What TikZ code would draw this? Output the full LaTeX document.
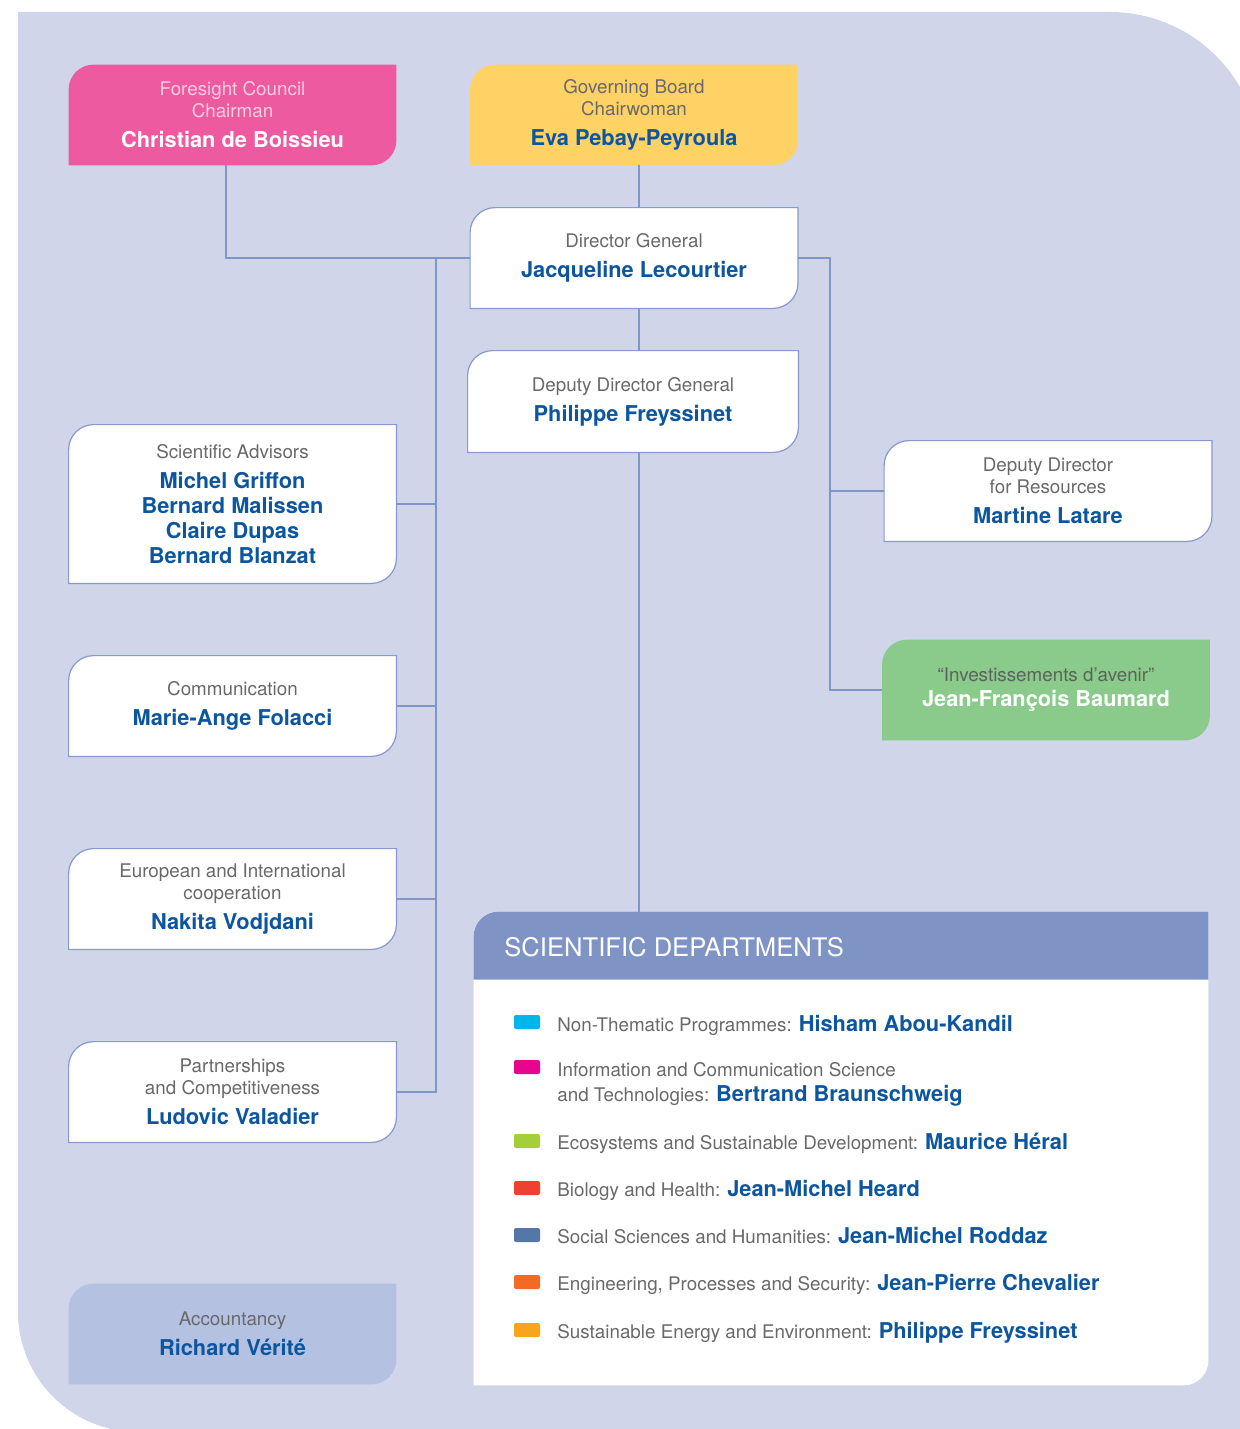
\documentclass[tikz,border=0pt]{standalone}
\usepackage{fontspec}
\setmainfont{TeX Gyre Heros}
\usetikzlibrary{calc}

\pgfdeclarelayer{bg}
\pgfdeclarelayer{shapes}
\pgfsetlayers{bg,shapes,main}

\definecolor{pagebg}{RGB}{208,213,233}
\definecolor{linec}{RGB}{128,149,202}
\definecolor{edgec}{RGB}{135,153,207}
\definecolor{txtgray}{RGB}{105,105,108}
\definecolor{nameblue}{RGB}{12,86,160}
\definecolor{pinkbox}{RGB}{238,90,160}
\definecolor{pinktxt}{RGB}{250,205,225}
\definecolor{yellowbox}{RGB}{254,210,100}
\definecolor{greenbox}{RGB}{138,202,138}
\definecolor{greentxt}{RGB}{90,100,92}
\definecolor{headc}{RGB}{127,147,197}
\definecolor{accbox}{RGB}{181,193,224}
\definecolor{dcyan}{RGB}{0,181,232}
\definecolor{dmagenta}{RGB}{232,4,140}
\definecolor{dgreen}{RGB}{166,206,57}
\definecolor{dred}{RGB}{238,65,48}
\definecolor{dslate}{RGB}{84,119,168}
\definecolor{dorange}{RGB}{242,106,35}
\definecolor{damber}{RGB}{249,165,27}

\newcommand{\light}{\fontsize{9.4}{11}\selectfont\color{txtgray}}
\newcommand{\name}{\fontsize{10.9}{12.5}\selectfont\bfseries\color{nameblue}}
% box outline: rounded top left and bottom right only
\newcommand{\orgshape}[2]{%
  \path[#2] (#1.south west) -- ([yshift=-12.5pt]#1.north west)
    arc[start angle=180,end angle=90,radius=12.5pt] -- (#1.north east)
    -- ([yshift=12.5pt]#1.south east)
    arc[start angle=0,end angle=-90,radius=12.5pt] -- cycle;}

\tikzset{
  orgbox/.style={minimum width=163.5pt, minimum height=50pt, inner sep=0pt, align=center, font=\light,
    execute at begin node={\rule{0pt}{10.5pt}}},
  whitebox/.style={fill=white, draw=edgec, line width=0.6pt},
  link/.style={draw=linec, line width=1pt},
  dsq/.style={minimum width=13pt, minimum height=7pt, inner sep=0pt, rounded corners=1pt},
  dtext/.style={anchor=base west, inner sep=0pt, font=\light}
}

\begin{document}
\begin{tikzpicture}[x=0.5pt, y=-0.5pt]
    \useasboundingbox (0,0) rectangle (1239,1429);

    % Nen
    \begin{pgfonlayer}{bg}
    \fill[pagebg] (18,12) -- (1110,12) arc[start angle=90,end angle=0,radius=75pt]
        -- (1260,1432) -- (138,1432) arc[start angle=270,end angle=180,radius=60pt] -- cycle;
    \end{pgfonlayer}

    % Hang tren
    \node[orgbox, font=\light\color{pinktxt}] (fc) at (232.5,115) {Foresight Council\\ Chairman\\[4pt]
        \name\color{white} Christian de Boissieu};
    \node[orgbox] (gb) at (634,115) {Governing Board\\ Chairwoman\\[4pt]
        \name Eva Pebay-Peyroula};
    \node[orgbox] (dg) at (634,258) {Director General\\[4pt] \name Jacqueline Lecourtier};
    \node[orgbox, minimum width=165pt, minimum height=50.5pt] (ddg) at (633,401.5)
        {Deputy Director General\\[4pt] \name Philippe Freyssinet};

    % Cot trai
    \node[orgbox, minimum height=79pt] (sa) at (232.5,504) {Scientific Advisors\\[4pt]
        \name Michel Griffon\\[1.5pt] \name Bernard Malissen\\[1.5pt] \name Claire Dupas\\[1.5pt]
        \name Bernard Blanzat};
    \node[orgbox] (cm) at (232.5,706) {Communication\\[4pt] \name Marie-Ange Folacci};
    \node[orgbox] (eu) at (232.5,899) {European and International\\ cooperation\\[4pt]
        \name Nakita Vodjdani};
    \node[orgbox] (pc) at (232.5,1092) {Partnerships\\ and Competitiveness\\[4pt]
        \name Ludovic Valadier};
    \node[orgbox] (ac) at (232.5,1334) {Accountancy\\[4pt] \name Richard Vérité};

    % Cot phai
    \node[orgbox] (dr) at (1048,491) {Deputy Director\\ for Resources\\[4pt]
        \name Martine Latare};
    \node[orgbox, font=\light\color{greentxt}] (iv) at (1046,690) {“Investissements d’avenir”\\[1.5pt]
        \name\color{white} Jean-François Baumard};

    % Scientific departments
    \node[minimum width=367pt, minimum height=236.5pt, inner sep=0pt] (sd) at (841,1148.5) {};
    \node[anchor=west, inner sep=0pt, text=white, font=\fontsize{12.8}{14}\selectfont]
        (sdtitle) at (504,947) {SCIENTIFIC DEPARTMENTS};

    \node[dsq, fill=dcyan] (sq1) at (527,1022) {};
    \node[dsq, fill=dmagenta] (sq2) at (527,1067) {};
    \node[dsq, fill=dgreen] (sq3) at (527,1141) {};
    \node[dsq, fill=dred] (sq4) at (527,1188) {};
    \node[dsq, fill=dslate] (sq5) at (527,1235) {};
    \node[dsq, fill=dorange] (sq6) at (527,1282) {};
    \node[dsq, fill=damber] (sq7) at (527,1330) {};

    \node[dtext] (dp1) at (557,1031) {Non-Thematic Programmes: \name Hisham Abou-Kandil};
    \node[dtext] (dp2) at (557,1076) {Information and Communication Science};
    \node[dtext] (dp2b) at (557,1101) {and Technologies: \name Bertrand Braunschweig};
    \node[dtext] (dp3) at (557,1149) {Ecosystems and Sustainable Development: \name Maurice Héral};
    \node[dtext] (dp4) at (557,1196) {Biology and Health: \name Jean-Michel Heard};
    \node[dtext] (dp5) at (557,1243) {Social Sciences and Humanities: \name Jean-Michel Roddaz};
    \node[dtext] (dp6) at (557,1290) {Engineering, Processes and Security: \name Jean-Pierre Chevalier};
    \node[dtext] (dp7) at (557,1338) {Sustainable Energy and Environment: \name Philippe Freyssinet};

    % Hinh cac hop
    \begin{pgfonlayer}{shapes}
    \orgshape{fc}{fill=pinkbox}
    \orgshape{gb}{fill=yellowbox}
    \orgshape{dg}{whitebox}
    \orgshape{ddg}{whitebox}
    \orgshape{sa}{whitebox}
    \orgshape{cm}{whitebox}
    \orgshape{eu}{whitebox}
    \orgshape{pc}{whitebox}
    \orgshape{ac}{fill=accbox}
    \orgshape{dr}{whitebox}
    \orgshape{iv}{fill=greenbox}
    \orgshape{sd}{fill=white}
    \fill[headc] ([yshift=-34pt]sd.north west) -- ([yshift=-12.5pt]sd.north west)
        arc[start angle=180,end angle=90,radius=12.5pt] -- (sd.north east)
        -- ([yshift=-34pt]sd.north east) -- cycle;
    \end{pgfonlayer}

    % Duong noi
    \coordinate (lt) at (436,258);
    \coordinate (rt) at (830,258);
    \draw[link] ([xshift=-3.5pt]fc.south) |- (dg.west);
    \draw[link] ([xshift=2.5pt]gb.south) -- ([xshift=2.5pt]dg.north);
    \draw[link] ([xshift=2.5pt]dg.south) -- ([xshift=3pt]ddg.north);
    \draw[link] ([xshift=3pt]ddg.south) -- ([xshift=3pt]ddg.south |- sd.north);
    \draw[link] (lt) |- (pc.east);
    \draw[link] (sa.east) -- (sa.east -| lt);
    \draw[link] (cm.east) -- (cm.east -| lt);
    \draw[link] (eu.east) -- (eu.east -| lt);
    \draw[link] (dg.east) -| (rt |- iv.west) -- (iv.west);
    \draw[link] (dr.west) -- (dr.west -| rt);

\end{tikzpicture}
\end{document}
